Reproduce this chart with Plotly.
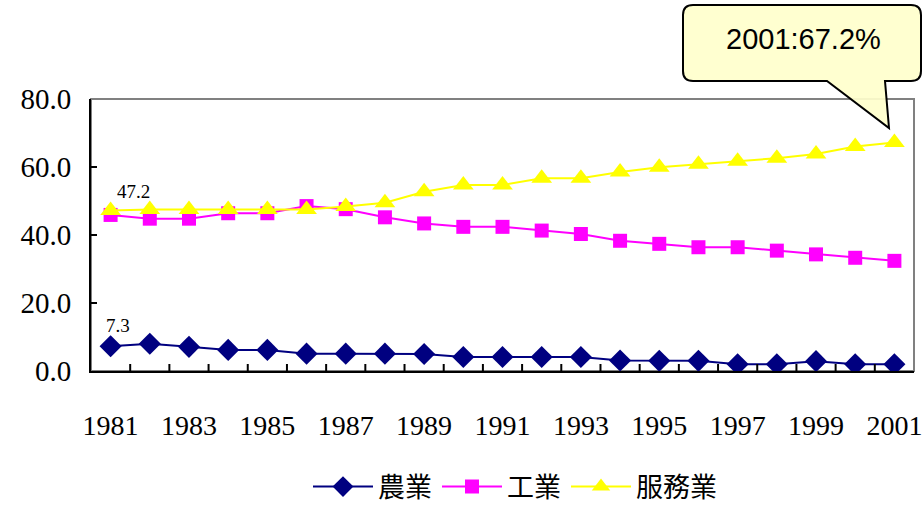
import plotly.graph_objects as go

# Share of GDP by sector (%), 1981-2001
years = [1981, 1982, 1983, 1984, 1985, 1986, 1987, 1988, 1989, 1990, 1991,
         1992, 1993, 1994, 1995, 1996, 1997, 1998, 1999, 2000, 2001]
agriculture = [7.3, 8.0, 7.1, 6.2, 6.2, 5.1, 5.1, 5.1, 5.0, 4.1, 4.1,
               4.1, 4.1, 3.1, 3.0, 3.0, 2.0, 2.0, 2.9, 2.0, 2.0]
industry = [45.9, 44.8, 44.8, 46.4, 46.4, 48.5, 47.6, 45.2, 43.4, 42.4, 42.4,
            41.3, 40.3, 38.3, 37.4, 36.4, 36.4, 35.4, 34.3, 33.3, 32.4]
services = [47.2, 47.5, 47.5, 47.5, 47.5, 47.5, 48.4, 49.5, 52.7, 54.7, 54.7,
            56.7, 56.7, 58.5, 59.9, 60.8, 61.7, 62.6, 63.8, 66.0, 67.2]

series_names = ["農業", "工業", "服務業"]
label_years = [1981, 1983, 1985, 1987, 1989, 1991, 1993, 1995, 1997, 1999, 2001]
y_ticks = [0, 20, 40, 60, 80]

W, H = 923, 507
ML, MR, MT, MB = 91, 9, 99, 136
PW, PH = W - ML - MR, H - MT - MB


def px_x(p):
    return (p - ML) / PW


def px_y(p):
    return (H - MB - p) / PH


serif = "Liberation Serif, Times New Roman, serif"
x_range = [years[0] - 0.5, years[-1] + 0.5]

fig = go.Figure()
fig.add_trace(go.Scatter(
    x=years, y=agriculture, name=series_names[0], mode="lines+markers",
    line=dict(color="#000080", width=2),
    marker=dict(symbol="diamond", size=17, color="#000080"),
))
fig.add_trace(go.Scatter(
    x=years, y=industry, name=series_names[1], mode="lines+markers",
    line=dict(color="#FF00FF", width=2),
    marker=dict(symbol="square", size=14, color="#FF00FF"),
))
fig.add_trace(go.Scatter(
    x=years, y=services, name=series_names[2], mode="lines+markers",
    line=dict(color="#FFFF00", width=2),
    marker=dict(symbol="triangle-up", size=18, color="#FFFF00"),
))

# value labels on the first year
fig.add_annotation(x=years[0], y=services[0], text=f"{services[0]:.1f}",
                   showarrow=False, xshift=23, yshift=19,
                   font=dict(family=serif, size=19, color="black"))
fig.add_annotation(x=years[0], y=agriculture[0], text=f"{agriculture[0]:.1f}",
                   showarrow=False, xshift=7, yshift=21,
                   font=dict(family=serif, size=19, color="black"))

# plot-area frame (grey top/right edge)
fig.add_shape(type="rect", xref="paper", yref="paper", x0=0, y0=0, x1=1, y1=1,
              line=dict(color="#808080", width=2), layer="below")

# category tick marks on the boundaries between years (pointing inward)
for yr in years[1:]:
    fig.add_shape(type="line", xref="x", yref="paper",
                  x0=yr - 0.5, x1=yr - 0.5, y0=0, y1=7 / PH,
                  line=dict(color="black", width=2), layer="above")

# speech-bubble callout pointing at the last services value
L, R, T, B, r = 683, 921, 5, 81, 10
tail_a, tail_b, tip_x, tip_y = 827, 885, 889, 128
pts = [
    ("M", (L + r, T)), ("L", (R - r, T)), ("Q", (R, T), (R, T + r)),
    ("L", (R, B - r)), ("Q", (R, B), (R - r, B)), ("L", (tail_b, B)),
    ("L", (tip_x, tip_y)), ("L", (tail_a, B)), ("L", (L + r, B)),
    ("Q", (L, B), (L, B - r)), ("L", (L, T + r)), ("Q", (L, T), (L + r, T)),
]
path = ""
for cmd, *coords in pts:
    path += cmd + " " + " ".join(f"{px_x(cx):.5f},{px_y(cy):.5f}" for cx, cy in coords) + " "
path += "Z"
fig.add_shape(type="path", xref="paper", yref="paper", path=path,
              fillcolor="rgba(255,255,204,0.92)", line=dict(color="black", width=2),
              layer="above")
fig.add_annotation(xref="paper", yref="paper", x=px_x(803), y=px_y(39),
                   xanchor="center", yanchor="middle",
                   text=f"{years[-1]}:{services[-1]:.1f}%", showarrow=False,
                   font=dict(family="Liberation Sans, Arial, sans-serif", size=29,
                             color="black"))

fig.update_layout(
    xaxis=dict(
        range=x_range, automargin=False,
        tickmode="array", tickvals=label_years, ticktext=[str(y) for y in label_years],
        ticks="", ticklabelstandoff=28,
        showline=True, linecolor="black", linewidth=2,
        showgrid=False, zeroline=False,
        tickfont=dict(family=serif, size=28, color="black"),
    ),
    yaxis=dict(
        range=[0, 80], automargin=False,
        tickmode="array", tickvals=y_ticks, tickformat=".1f",
        ticks="inside", ticklen=6, tickwidth=2, tickcolor="black",
        ticklabelstandoff=12,
        showline=True, linecolor="black", linewidth=2,
        showgrid=False, zeroline=False,
        tickfont=dict(family=serif, size=29, color="black"),
    ),
    width=W, height=H, autosize=False,
    margin=dict(l=ML, r=MR, t=MT, b=MB, autoexpand=False),
    paper_bgcolor="white", plot_bgcolor="white",
    showlegend=True,
    legend=dict(orientation="h", x=px_x(515), xanchor="center",
                y=px_y(487), yanchor="middle", itemwidth=60,
                font=dict(family="Noto Sans CJK TC, sans-serif", size=27, color="black"),
                bgcolor="rgba(0,0,0,0)"),
)

fig.write_html("out.html")
